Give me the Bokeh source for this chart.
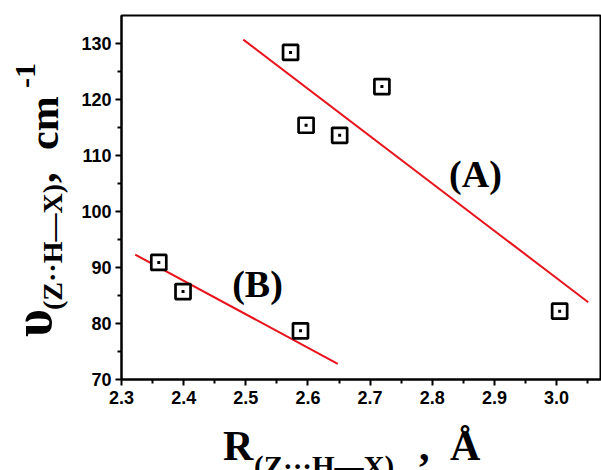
from bokeh.plotting import figure
from bokeh.models import Label, FixedTicker, Range1d, PrintfTickFormatter, Div
from bokeh.layouts import row, column
from bokeh.embed import file_html
from bokeh.resources import INLINE

# ---- data ----
r_a = [2.572, 2.597, 2.651, 2.719, 3.005]
v_a = [128.4, 115.4, 113.6, 122.3, 82.2]
r_b = [2.360, 2.399, 2.588]
v_b = [90.9, 85.7, 78.7]
fit_a_r = [2.496, 3.051]
fit_a_v = [130.7, 83.8]
fit_b_r = [2.322, 2.648]
fit_b_v = [92.3, 72.8]
x_ticks = [2.3, 2.4, 2.5, 2.6, 2.7, 2.8, 2.9, 3.0]
x_minor = [2.35, 2.45, 2.55, 2.65, 2.75, 2.85, 2.95, 3.05]
y_ticks = [70, 80, 90, 100, 110, 120, 130]
y_minor = [75, 85, 95, 105, 115, 125]

# ---- layout ----
W, H = 601, 470
YDIV_W = 70            # left strip holding the y title
XDIV_H = 50            # bottom strip holding the x title
PW, PH = W - YDIV_W, H - XDIV_H
L, R, T, B = 121 - YDIV_W, 0, 15, PH - 379
X0, X1 = 2.3, 2.3 + (PW - L - R) / 621.5
Y0, Y1 = 70, 70 + (PH - T - B) / 5.6

def sx(px):
    return X0 + (px - 121) / (PW - L - R) * (X1 - X0)

def sy(py):
    return Y1 - (py - T) / (PH - T - B) * (Y1 - Y0)

p = figure(width=PW, height=PH, output_backend="svg", toolbar_location=None,
           x_range=Range1d(X0, X1), y_range=Range1d(Y0, Y1),
           min_border_left=L, min_border_right=R, min_border_top=T, min_border_bottom=B)
p.grid.visible = False
p.outline_line_color = "black"
p.outline_line_width = 2
p.background_fill_color = "white"
p.border_fill_color = "white"

for ax, ticks, minor in ((p.xaxis[0], x_ticks, x_minor), (p.yaxis[0], y_ticks, y_minor)):
    ax.ticker = FixedTicker(ticks=ticks, minor_ticks=minor)
    ax.axis_line_width = 2
    ax.axis_line_color = "black"
    ax.major_tick_line_width = 2
    ax.major_tick_line_color = "black"
    ax.minor_tick_line_width = 2
    ax.minor_tick_line_color = "black"
    ax.major_tick_in = 0
    ax.major_tick_out = 6
    ax.minor_tick_in = 0
    ax.minor_tick_out = 4
    ax.major_label_text_font = "Liberation Sans"
    ax.major_label_text_font_style = "bold"
    ax.major_label_text_font_size = "18px"
    ax.major_label_text_color = "black"
p.xaxis[0].major_label_standoff = 5
p.yaxis[0].major_label_standoff = 4
p.xaxis[0].formatter = PrintfTickFormatter(format="%.1f")

# fit lines
p.line(fit_a_r, fit_a_v, line_color="#e8141c", line_width=2)
p.line(fit_b_r, fit_b_v, line_color="#e8141c", line_width=2)

# markers
for xs, ys in ((r_a, v_a), (r_b, v_b)):
    p.scatter(xs, ys, marker="square", size=15, line_width=2.7,
              line_color="black", fill_color="white")
    p.scatter(xs, ys, marker="square", size=3, line_width=0,
              line_color=None, fill_color="black")

serif = "Liberation Serif"

def lab(px, py, text, size):
    p.add_layout(Label(x=sx(px), y=sy(py), text=text, text_font=serif,
                       text_font_style="bold", text_font_size=f"{size}px",
                       text_color="black", text_align="center",
                       text_baseline="alphabetic"))

# curve labels
lab(475, 173, "(A)", 38)
lab(257, 283, "(B)", 38)

ASC = 0.8375  # baseline position inside a line box of line-height = font-size

def piece(x, y, text, size, rotate=False, ox=0, oy=0):
    # x, y: page position of the text start on its baseline
    if rotate:
        left, top = x - ASC * size, y
        tr = "transform:rotate(-90deg);transform-origin:0 0;"
    else:
        left, top = x, y - ASC * size
        tr = ""
    return (f'<div style="position:absolute;left:{left - ox:.1f}px;top:{top - oy:.1f}px;'
            f'white-space:nowrap;color:black;font-family:\'Liberation Serif\';font-weight:bold;'
            f'font-size:{size}px;line-height:{size}px;{tr}">{text}</div>')

y_title = "".join([
    piece(51, 337, "υ", 54, True),
    piece(62, 310, "(Z··H—X)", 28, True),
    piece(55, 183, ",", 42, True),
    piece(58, 150, "cm", 42, True),
    piece(35, 88, "-1", 30, True),
])
x_title = "".join([
    piece(223, 460, "R", 42, ox=YDIV_W, oy=PH),
    piece(254, 476, "(Z···H—X)", 29, ox=YDIV_W, oy=PH),
    piece(419, 460, ",", 42, ox=YDIV_W, oy=PH),
    piece(450, 460, "Å", 42, ox=YDIV_W, oy=PH),
])

ydiv = Div(text=f'<div style="position:relative;width:{YDIV_W}px;height:{H}px;overflow:hidden;">{y_title}</div>',
           width=YDIV_W, height=H, margin=0)
xdiv = Div(text=f'<div style="position:relative;width:{PW}px;height:{XDIV_H}px;overflow:hidden;">{x_title}</div>',
           width=PW, height=XDIV_H, margin=0)

layout = row(ydiv, column(p, xdiv, spacing=0), spacing=0)
open("out.html", "w").write(file_html(layout, INLINE))
